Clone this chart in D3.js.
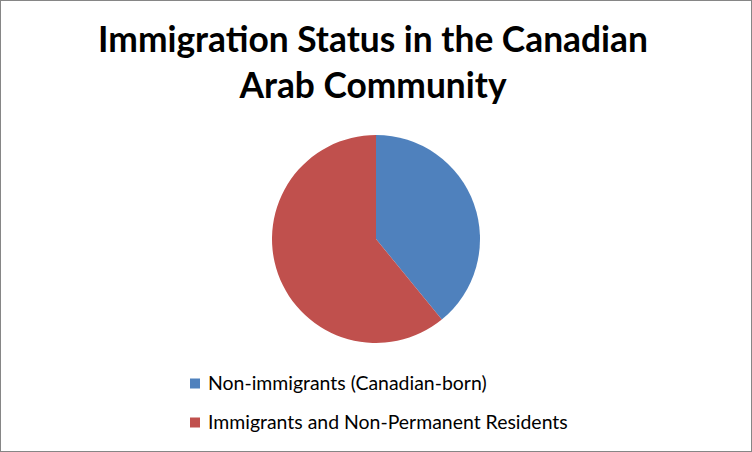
<!DOCTYPE html>
<html>
<head>
<meta charset="utf-8">
<script src="https://cdn.jsdelivr.net/npm/d3@7"></script>
<style>
  body { margin: 0; background: #fff; }
  text { font-family: Lato, "Open Sans", sans-serif; }
</style>
</head>
<body>
<div id="canvas"></div>
<script>
"use strict";

/* Data */
let categories = ["Non-immigrants (Canadian-born)", "Immigrants and Non-Permanent Residents"];
let shares = [39.1, 60.9];
let colours = ["#4F81BD", "#C0504D"];
let titleLines = ["Immigration Status in the Canadian", "Arab Community"];

/* Layout */
let svgWidth = 752;
let svgHeight = 452;
let pieCx = 376;
let pieCy = 239;
let pieR = 104;

let svg = d3.select("#canvas")
  .append("svg")
  .attr("width", svgWidth)
  .attr("height", svgHeight);

/* Outer border */
svg.append("rect")
  .attr("x", 0.5)
  .attr("y", 0.5)
  .attr("width", svgWidth - 1)
  .attr("height", svgHeight - 1)
  .attr("fill", "#fff")
  .attr("stroke", "#868686");

/* Shrink/grow a text node's font so it spans a given width */
function fitWidth(sel, target, startSize) {
  sel.style("font-size", startSize + "px");
  let w = sel.node().getComputedTextLength();
  sel.style("font-size", (startSize * target / w) + "px");
}

/* Title */
let titleBaselines = [52, 98];
titleLines.forEach(function (line, i) {
  let t = svg.append("text")
    .attr("x", 373)
    .attr("y", titleBaselines[i])
    .attr("text-anchor", "middle")
    .attr("font-weight", "bold")
    .attr("fill", "#000")
    .text(line);
  if (i === 0) fitWidth(t, 550, 34);
});
let titleSize = svg.select("text:nth-of-type(1)").style("font-size");
svg.selectAll("text").style("font-size", titleSize);

/* Pie */
let pie = d3.pie().sort(null).value(function (d) { return d; });
let arc = d3.arc().innerRadius(0).outerRadius(pieR);

svg.append("g")
  .attr("transform", "translate(" + pieCx + "," + pieCy + ")")
  .selectAll("path")
  .data(pie(shares))
  .join("path")
  .attr("d", arc)
  .attr("fill", function (d, i) { return colours[i]; });

/* Legend */
let legendY = d3.scaleBand()
  .domain(categories)
  .range([364, 442]);

let items = svg.selectAll("g.legend")
  .data(categories)
  .join("g")
  .attr("class", "legend")
  .attr("transform", function (d) {
    return "translate(190," + (legendY(d) + legendY.bandwidth() / 2) + ")";
  });

items.append("rect")
  .attr("x", 0)
  .attr("y", -5)
  .attr("width", 10)
  .attr("height", 10)
  .attr("fill", function (d, i) { return colours[i]; });

let labels = items.append("text")
  .attr("x", 18)
  .attr("y", 0)
  .attr("dy", "0.35em")
  .attr("fill", "#000")
  .text(function (d) { return d; });

fitWidth(d3.select(labels.nodes()[1]), 360, 18);
labels.style("font-size", d3.select(labels.nodes()[1]).style("font-size"));
</script>
</body>
</html>
